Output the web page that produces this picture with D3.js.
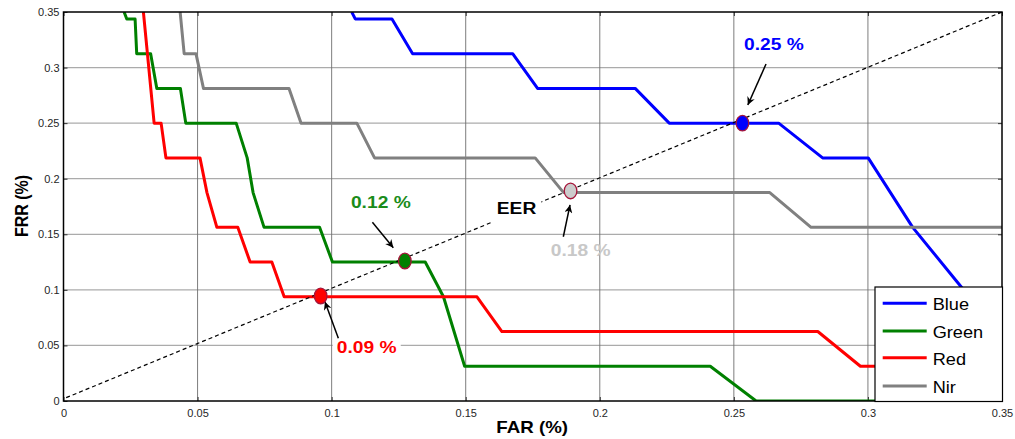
<!DOCTYPE html>
<html>
<head>
<meta charset="utf-8">
<script src="https://cdn.jsdelivr.net/npm/d3@7"></script>
<style>
  html, body { margin: 0; padding: 0; background: #fff; }
  svg { display: block; }
  text { font-family: Arial, "Liberation Sans", sans-serif; }
</style>
</head>
<body>
<svg id="chart" width="1015" height="439"></svg>
<script>
// ---------------- data ----------------
const xTicks = [0, 0.05, 0.1, 0.15, 0.2, 0.25, 0.3, 0.35];
const xTickLabels = ["0", "0.05", "0.1", "0.15", "0.2", "0.25", "0.3", "0.35"];
const yTicks = [0, 0.05, 0.1, 0.15, 0.2, 0.25, 0.3, 0.35];
const yTickLabels = ["0", "0.05", "0.1", "0.15", "0.2", "0.25", "0.3", "0.35"];

const seriesNames = ["Blue", "Green", "Red", "Nir"];

const blueFAR = [0.1075, 0.1088, 0.1225, 0.1302, 0.1675, 0.1768, 0.2132, 0.2259, 0.2667, 0.2831, 0.3001, 0.3167, 0.3349, 0.35];
const blueFRR = [0.35, 0.34375, 0.34375, 0.3125, 0.3125, 0.28125, 0.28125, 0.25, 0.25, 0.21875, 0.21875, 0.15625, 0.1023, 0.0578];

const greenFAR = [0.0226, 0.0236, 0.0267, 0.0273, 0.0325, 0.0348, 0.0436, 0.0456, 0.0644, 0.0685, 0.0707, 0.0748, 0.0955, 0.1003, 0.1349, 0.1417, 0.1496, 0.2412, 0.2583, 0.35];
const greenFRR = [0.35, 0.34375, 0.34375, 0.3125, 0.3125, 0.28125, 0.28125, 0.25, 0.25, 0.21875, 0.1875, 0.15625, 0.15625, 0.125, 0.125, 0.09375, 0.03125, 0.03125, 0, 0];

const redFAR = [0.0298, 0.0338, 0.0364, 0.0382, 0.0509, 0.0535, 0.0572, 0.065, 0.0696, 0.0777, 0.0823, 0.1542, 0.1635, 0.2813, 0.2972, 0.35];
const redFRR = [0.35, 0.25, 0.25, 0.21875, 0.21875, 0.1875, 0.15625, 0.15625, 0.125, 0.125, 0.09375, 0.09375, 0.0625, 0.0625, 0.03125, 0.03125];

const nirFAR = [0.0435, 0.045, 0.0494, 0.0522, 0.0841, 0.0886, 0.1094, 0.116, 0.1759, 0.1865, 0.2634, 0.2788, 0.35];
const nirFRR = [0.35, 0.3125, 0.3125, 0.28125, 0.28125, 0.25, 0.25, 0.21875, 0.21875, 0.1875, 0.1875, 0.15625, 0.15625];

// EER points (FAR, FRR) for Blue, Green, Red, Nir
const eerFAR = [0.2532, 0.1273, 0.0959, 0.1891];
const eerFRR = [0.25, 0.126, 0.0945, 0.189];
const eerText = ["0.25 %", "0.12 %", "0.09 %", "0.18 %"];
// label anchors (left, baseline) in data units
const eerLabelFAR = [0.2538, 0.1072, 0.1019, 0.1817];
const eerLabelFRR = [0.3158, 0.1737, 0.0429, 0.1305];
// arrow tail / tip in data units
const arrowFromFAR = [0.2620, 0.1152, 0.1025, 0.1864];
const arrowFromFRR = [0.3032, 0.1608, 0.0564, 0.1478];
const arrowToFAR = [0.2552, 0.1230, 0.0975, 0.1889];
const arrowToFRR = [0.2663, 0.1379, 0.0893, 0.1764];

const eerLineLabel = "EER";
const eerLineLabelFAR = 0.1616;
const eerLineLabelFRR = 0.1680;

// ---------------- styles ----------------
const colors = { Blue: "#0000ff", Green: "#008000", Red: "#ff0000", Nir: "#808080" };
const labelColors = ["#0000ff", "#1a8c1a", "#ff0000", "#c8c8c8"];
const markerFill = ["#0000ff", "#008000", "#ff0000", "#cccccc"];
const STRETCH = 1.13;

// ---------------- layout ----------------
const svg = d3.select("#chart");
const L = 63.5, R = 1002, T = 12, B = 401;
const x = d3.scaleLinear().domain([0, 0.35]).range([L, R]);
const y = d3.scaleLinear().domain([0, 0.35]).range([B, T]);

svg.append("rect").attr("width", 1015).attr("height", 439).attr("fill", "#fff");

// grid
const grid = svg.append("g");
grid.selectAll("line.h").data(yTicks.slice(1, -1)).join("line")
  .attr("x1", L).attr("x2", R)
  .attr("y1", d => y(d)).attr("y2", d => y(d))
  .attr("stroke", "#ababab").attr("stroke-width", 1.2);
grid.selectAll("line.v").data(xTicks.slice(1, -1)).join("line")
  .attr("y1", T).attr("y2", B)
  .attr("x1", d => x(d)).attr("x2", d => x(d))
  .attr("stroke", "#6e6e6e").attr("stroke-width", 0.9);

// axes
const fmtX = d => xTickLabels[xTicks.indexOf(d)];
const fmtY = d => yTickLabels[yTicks.indexOf(d)];
function styleAxis(g) {
  g.select(".domain").remove();
  g.selectAll(".tick line").attr("stroke", "#333").attr("stroke-width", 1);
  g.selectAll(".tick text").attr("fill", "#262626").style("font-size", "11px")
    .style("font-family", "Arial, 'Liberation Sans', sans-serif");
}
svg.append("g").attr("transform", `translate(0,${B})`)
  .call(d3.axisBottom(x).tickValues(xTicks).tickFormat(fmtX).tickSize(-4).tickPadding(8))
  .call(styleAxis);
svg.append("g").attr("transform", `translate(${L},0)`)
  .call(d3.axisLeft(y).tickValues(yTicks).tickFormat(fmtY).tickSize(-4).tickPadding(4))
  .call(styleAxis);
svg.append("g").attr("transform", `translate(0,${T})`)
  .call(d3.axisTop(x).tickValues(xTicks).tickFormat("").tickSize(-4))
  .call(styleAxis);
svg.append("g").attr("transform", `translate(${R},0)`)
  .call(d3.axisRight(y).tickValues(yTicks).tickFormat("").tickSize(-4))
  .call(styleAxis);

// clip
svg.append("defs").append("clipPath").attr("id", "plotclip")
  .append("rect").attr("x", L).attr("y", T).attr("width", R - L).attr("height", B - T);

const defs = svg.select("defs");
defs.append("marker").attr("id", "arrowhead")
  .attr("viewBox", "0 0 10 10").attr("refX", 10).attr("refY", 5)
  .attr("markerWidth", 10).attr("markerHeight", 8)
  .attr("markerUnits", "userSpaceOnUse").attr("orient", "auto")
  .append("path").attr("d", "M0,0 L10,5 L0,10 L3,5 Z").attr("fill", "#000");

const plot = svg.append("g").attr("clip-path", "url(#plotclip)");

const seriesData = [
  { name: "Blue", far: blueFAR, frr: blueFRR },
  { name: "Green", far: greenFAR, frr: greenFRR },
  { name: "Red", far: redFAR, frr: redFRR },
  { name: "Nir", far: nirFAR, frr: nirFRR }
];
const line = d3.line().x(d => x(d[0])).y(d => y(d[1]));
plot.selectAll("path.series").data(seriesData).join("path")
  .attr("class", "series")
  .attr("d", s => line(s.far.map((f, i) => [f, s.frr[i]])))
  .attr("fill", "none")
  .attr("stroke", s => colors[s.name])
  .attr("stroke-width", 3)
  .attr("stroke-linejoin", "round");

// EER diagonal
plot.append("path")
  .attr("d", line([[0.001, 0.003], [0.35, 0.35]]))
  .attr("fill", "none").attr("stroke", "#000").attr("stroke-width", 1.2)
  .attr("stroke-dasharray", "4,3");

function stretchedText(parent, px, py, str, opts) {
  const g = parent.append("g").attr("transform", `translate(${px},${py}) scale(${opts.stretch || STRETCH},1)`);
  g.append("text").attr("x", 0).attr("y", 0)
    .attr("text-anchor", opts.anchor || "start")
    .style("font-size", opts.size + "px")
    .style("font-weight", opts.weight || "normal")
    .attr("fill", opts.color || "#000")
    .text(str);
  return g;
}

// EER label with white background
const ex = x(eerLineLabelFAR), ey = y(eerLineLabelFRR);
svg.append("rect").attr("x", ex - 4.5).attr("y", ey - 16).attr("width", 49).attr("height", 28).attr("fill", "#fff");
stretchedText(svg, ex, ey, eerLineLabel, { size: 17, weight: "bold", color: "#000" });

// 0.09 label background
const i09 = 2;
svg.append("rect").attr("x", x(eerLabelFAR[i09]) - 4).attr("y", y(eerLabelFRR[i09]) - 16)
  .attr("width", 68).attr("height", 21).attr("fill", "#fff");

// arrows
svg.selectAll("line.arrow").data(d3.range(4)).join("line")
  .attr("class", "arrow")
  .attr("x1", i => x(arrowFromFAR[i])).attr("y1", i => y(arrowFromFRR[i]))
  .attr("x2", i => x(arrowToFAR[i])).attr("y2", i => y(arrowToFRR[i]))
  .attr("stroke", "#000").attr("stroke-width", 1.5)
  .attr("marker-end", "url(#arrowhead)");

// markers
svg.selectAll("ellipse.eer").data(d3.range(4)).join("ellipse")
  .attr("class", "eer")
  .attr("cx", i => x(eerFAR[i])).attr("cy", i => y(eerFRR[i]))
  .attr("rx", 6.3).attr("ry", 7.8)
  .attr("fill", i => markerFill[i])
  .attr("stroke", "#a5153a").attr("stroke-width", 1.3);

// labels
d3.range(4).forEach(i => {
  stretchedText(svg, x(eerLabelFAR[i]), y(eerLabelFRR[i]), eerText[i],
    { size: 17, weight: "bold", color: labelColors[i] });
});

// frame
svg.append("rect").attr("x", L).attr("y", T).attr("width", R - L).attr("height", B - T)
  .attr("fill", "none").attr("stroke", "#000").attr("stroke-width", 1.5);

// axis titles
stretchedText(svg, 532.2, 433.3, "FAR (%)", { size: 16, weight: "bold", anchor: "middle", stretch: 1.17 });
svg.append("g").attr("transform", "translate(28.3,206) scale(1.17,1) rotate(-90)")
  .append("text").attr("text-anchor", "middle")
  .style("font-size", "16px").style("font-weight", "bold").attr("fill", "#000")
  .text("FRR (%)");

// legend
const lg = svg.append("g");
lg.append("rect").attr("x", 875).attr("y", 287).attr("width", 127.5).attr("height", 114.5)
  .attr("fill", "#fff").attr("stroke", "#000").attr("stroke-width", 1.2);
const rowY = [303.3, 331, 357.7, 386];
seriesNames.forEach((n, i) => {
  lg.append("line").attr("x1", 882.7).attr("x2", 926.7).attr("y1", rowY[i]).attr("y2", rowY[i])
    .attr("stroke", colors[n]).attr("stroke-width", 3);
  stretchedText(lg, 932.7, rowY[i] + 6.8, n, { size: 16.5, color: "#000", stretch: 1.1 });
});
</script>
</body>
</html>
